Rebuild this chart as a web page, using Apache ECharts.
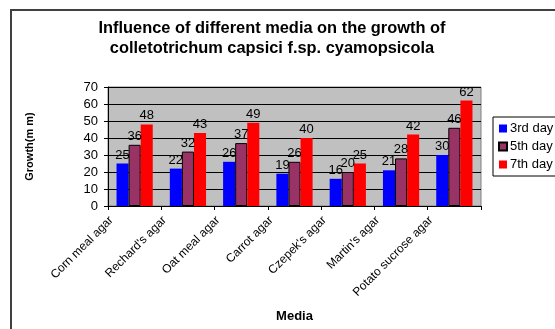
<!DOCTYPE html>
<html>
<head>
<meta charset="utf-8">
<script src="https://cdn.jsdelivr.net/npm/echarts@6/dist/echarts.min.js"></script>
<style>
    html, body { margin: 0; padding: 0; background: #fff; }
    #frame { position: absolute; left: 10px; top: 9px; width: 600px; height: 400px; border: 2px solid #404040; box-sizing: border-box; }
    #main { position: absolute; left: 0; top: 0; width: 555px; height: 329px; }
</style>
</head>
<body>
<div id="frame"></div>
<div id="main"></div>
<script>
// 类别（培养基）
let media = ['Corn meal agar', "Rechard's agar", 'Oat meal agar', 'Carrot agar', "Czepek's agar", "Martin's agar", 'Potato sucrose agar'];
// 各天的生长量 (mm)
let day3 = [25, 22, 26, 19, 16, 21, 30];
let day5 = [36, 32, 37, 26, 20, 28, 46];
let day7 = [48, 43, 49, 40, 25, 42, 62];
let seriesNames = ['3rd day', '5th day', '7th day'];
let seriesColors = ['#0000FF', '#993366', '#FF0000'];
let yTicks = [0, 10, 20, 30, 40, 50, 60, 70];

let font = 'Liberation Sans, Arial, sans-serif';

// 构造 series
let datas = [day3, day5, day7].map(function (d, i) {
    return {
        name: seriesNames[i],
        type: 'bar',
        data: d,
        barGap: 0,
        barCategoryGap: '32%',
        itemStyle: {
            color: seriesColors[i],
            borderColor: i == 1 ? '#000' : seriesColors[i],
            borderWidth: i == 1 ? 1 : 0
        },
        label: {
            show: true,
            position: 'top',
            distance: 2,
            color: '#000',
            fontFamily: font,
            fontSize: 13
        }
    };
});

let myChart = echarts.init(document.getElementById('main'), null, {renderer: 'canvas'});

let option = {
    animation: false,
    title: {
        text: 'Influence of different media on the growth of\ncolletotrichum capsici f.sp. cyamopsicola',
        left: 267,
        textAlign: 'center',
        top: 13,
        textStyle: {
            fontFamily: font,
            fontWeight: 'bold',
            fontSize: 16.4,
            lineHeight: 20,
            color: '#000'
        }
    },
    legend: {
        orient: 'vertical',
        left: 493,
        top: 117,
        data: seriesNames,
        itemWidth: 8,
        itemHeight: 8,
        itemGap: 5,
        padding: [5, 10, 5, 5],
        backgroundColor: '#fff',
        borderColor: '#000',
        borderWidth: 1,
        icon: 'rect',
        textStyle: {
            fontFamily: font,
            fontSize: 13,
            color: '#000',
            padding: [0, 0, 0, -2]
        }
    },
    grid: {
        left: 108,
        right: 74,
        top: 87,
        bottom: 123,
        show: true,
        backgroundColor: '#C0C0C0',
        borderColor: '#808080',
        borderWidth: 1
    },
    xAxis: {
        type: 'category',
        data: media,
        name: 'Media',
        nameLocation: 'middle',
        nameGap: 104,
        nameTextStyle: {fontFamily: font, fontWeight: 'bold', fontSize: 13, color: '#000'},
        axisLine: {lineStyle: {color: '#000'}},
        axisTick: {show: true, length: 4, lineStyle: {color: '#000'}},
        axisLabel: {
            rotate: 45,
            interval: 0,
            margin: 6,
            fontFamily: font,
            fontSize: 12,
            color: '#000',
            verticalAlign: 'bottom',
            padding: [0, 21, 6, 0]
        }
    },
    yAxis: {
        type: 'value',
        min: yTicks[0],
        max: yTicks[yTicks.length - 1],
        interval: 10,
        name: 'Growth(m m)',
        nameLocation: 'middle',
        nameGap: 73,
        nameRotate: 90,
        nameTextStyle: {fontFamily: font, fontWeight: 'bold', fontSize: 11, color: '#000'},
        axisLine: {show: true, lineStyle: {color: '#000'}},
        axisTick: {show: true, length: 4, lineStyle: {color: '#000'}},
        axisLabel: {fontFamily: font, fontSize: 13, color: '#000', margin: 10},
        splitLine: {show: true, lineStyle: {color: '#000', width: 1}}
    },
    series: datas
};

myChart.setOption(option);
</script>
</body>
</html>
